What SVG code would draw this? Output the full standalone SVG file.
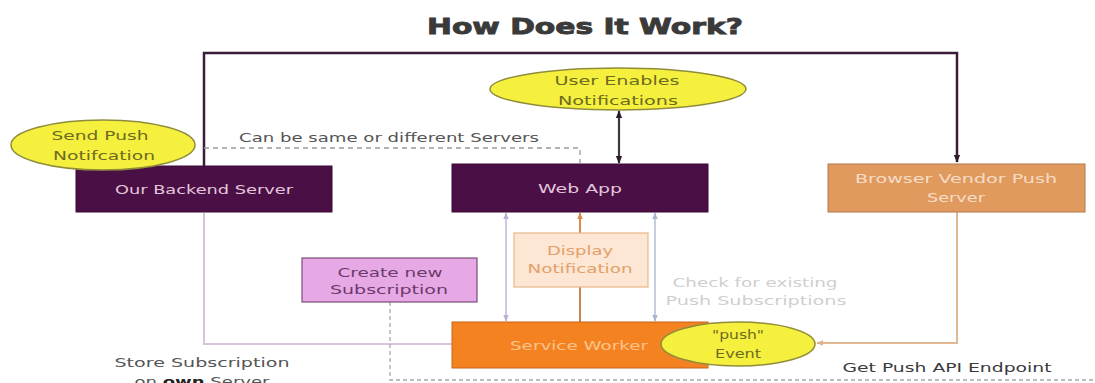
<svg xmlns="http://www.w3.org/2000/svg" width="1095" height="383" viewBox="0 0 1095 383">
<defs>
<style>
.t{font-family:"DejaVu Sans","Liberation Sans",sans-serif;text-anchor:middle;font-size:13px}
.dk{fill:#4a1045;stroke:#3a0a36;stroke-width:1}
.dkt{fill:#e4c6dc}
.yel{fill:#f5f03e;stroke:#8f8d3a;stroke-width:1.5}
.yelt{fill:#6e6a1e}
.ln{fill:none}
</style>
<marker id="aDk" viewBox="0 0 10 10" refX="9" refY="5" markerWidth="8" markerHeight="8" markerUnits="userSpaceOnUse" orient="auto-start-reverse"><path d="M0 1L10 5L0 9z" fill="#2e1a2c"/></marker>
<marker id="aLv" viewBox="0 0 10 10" refX="9" refY="5" markerWidth="7" markerHeight="7" markerUnits="userSpaceOnUse" orient="auto-start-reverse"><path d="M0 1L10 5L0 9z" fill="#c0aed2"/></marker>
<marker id="aBl" viewBox="0 0 10 10" refX="9" refY="5" markerWidth="7" markerHeight="7" markerUnits="userSpaceOnUse" orient="auto-start-reverse"><path d="M0 1L10 5L0 9z" fill="#aab4d0"/></marker>
<marker id="aOr" viewBox="0 0 10 10" refX="9" refY="5" markerWidth="7" markerHeight="7" markerUnits="userSpaceOnUse" orient="auto-start-reverse"><path d="M0 1L10 5L0 9z" fill="#d98a4c"/></marker>
<marker id="aTn" viewBox="0 0 10 10" refX="9" refY="5" markerWidth="7" markerHeight="7" markerUnits="userSpaceOnUse" orient="auto-start-reverse"><path d="M0 1L10 5L0 9z" fill="#dfb08a"/></marker>
</defs>
<rect width="1095" height="383" fill="#ffffff"/>

<text x="585" y="34" font-family="DejaVu Sans, Liberation Sans, sans-serif" font-weight="bold" font-size="22" fill="#3a3a3a" stroke="#3a3a3a" stroke-width="0.9" text-anchor="middle" textLength="316" lengthAdjust="spacingAndGlyphs">How Does It Work?</text>

<g id="connectors">
<path class="ln" d="M204 166V53H957V162" stroke="#3d1c3a" stroke-width="2.5" marker-end="url(#aDk)"/>
<path class="ln" d="M204 148H580V163" stroke="#9a9a9a" stroke-width="1.3" stroke-dasharray="5 4"/>
<path class="ln" d="M619 111V163" stroke="#3a3a3a" stroke-width="2.2" marker-start="url(#aDk)" marker-end="url(#aDk)"/>
<path class="ln" d="M204 213V344H452" stroke="#dcc0e2" stroke-width="2"/>
<path class="ln" d="M506 213V321" stroke="#c8b8d8" stroke-width="1.6" marker-start="url(#aLv)" marker-end="url(#aLv)"/>
<path class="ln" d="M580 233V213" stroke="#d98a4c" stroke-width="2" marker-end="url(#aOr)"/>
<path class="ln" d="M580 287V322" stroke="#c98650" stroke-width="2"/>
<path class="ln" d="M655 213V321" stroke="#b8c0d8" stroke-width="1.6" marker-start="url(#aBl)" marker-end="url(#aBl)"/>
<path class="ln" d="M957 212V343H817" stroke="#e2b894" stroke-width="2" marker-end="url(#aTn)"/>
<path class="ln" d="M390 302V380H1095" stroke="#a8a8a8" stroke-width="1.3" stroke-dasharray="4 3"/>
</g>

<text class="t" x="389" y="142" fill="#555555" font-size="14" textLength="300" lengthAdjust="spacingAndGlyphs">Can be same or different Servers</text>

<g id="backend">
<rect class="dk" x="76" y="166" width="256" height="46"/>
<text class="t dkt" x="204" y="194" textLength="178" lengthAdjust="spacingAndGlyphs">Our Backend Server</text>
</g>

<g id="send-push">
<ellipse class="yel" cx="103" cy="145" rx="92" ry="25"/>
<text class="t yelt" x="100" y="140" textLength="97" lengthAdjust="spacingAndGlyphs">Send Push</text>
<text class="t yelt" x="104" y="160" textLength="102" lengthAdjust="spacingAndGlyphs">Notifcation</text>
</g>

<g id="user-enables">
<ellipse class="yel" cx="618" cy="89" rx="128" ry="21"/>
<text class="t yelt" x="617" y="85" textLength="125" lengthAdjust="spacingAndGlyphs">User Enables</text>
<text class="t yelt" x="618" y="105" textLength="120" lengthAdjust="spacingAndGlyphs">Notifications</text>
</g>

<g id="web-app">
<rect class="dk" x="452" y="164" width="256" height="48"/>
<text class="t dkt" x="580" y="193" textLength="84" lengthAdjust="spacingAndGlyphs">Web App</text>
</g>

<g id="browser-vendor">
<rect x="828" y="164" width="257" height="48" fill="#e09a5e" stroke="#b07848" stroke-width="1"/>
<text class="t" x="956" y="183" fill="#f7dcc6" textLength="202" lengthAdjust="spacingAndGlyphs">Browser Vendor Push</text>
<text class="t" x="956" y="202" fill="#f7dcc6" textLength="58" lengthAdjust="spacingAndGlyphs">Server</text>
</g>

<g id="display-notification">
<rect x="514" y="233" width="134" height="54" fill="#fde6d3" stroke="#e8b68c" stroke-width="1.2"/>
<text class="t" x="580" y="255" fill="#e2a16a" textLength="66" lengthAdjust="spacingAndGlyphs">Display</text>
<text class="t" x="580" y="273" fill="#e2a16a" textLength="105" lengthAdjust="spacingAndGlyphs">Notification</text>
</g>

<g id="create-subscription">
<rect x="302" y="258" width="175" height="44" fill="#e7a9e6" stroke="#7a4c78" stroke-width="1.2"/>
<text class="t" x="390" y="277" fill="#6c3a6a" textLength="105" lengthAdjust="spacingAndGlyphs">Create new</text>
<text class="t" x="389" y="294" fill="#6c3a6a" textLength="118" lengthAdjust="spacingAndGlyphs">Subscription</text>
</g>

<text class="t" x="755" y="287" fill="#cfcfcf" textLength="165" lengthAdjust="spacingAndGlyphs">Check for existing</text>
<text class="t" x="756" y="305" fill="#cfcfcf" textLength="181" lengthAdjust="spacingAndGlyphs">Push Subscriptions</text>

<g id="service-worker">
<rect x="452" y="322" width="256" height="46" fill="#f58220" stroke="#c8641a" stroke-width="1"/>
<text class="t" x="579" y="350" fill="#fbc48c" textLength="138" lengthAdjust="spacingAndGlyphs">Service Worker</text>
</g>

<g id="push-event">
<ellipse class="yel" cx="738" cy="344" rx="77" ry="22"/>
<text class="t yelt" x="738" y="339" textLength="52" lengthAdjust="spacingAndGlyphs">"push"</text>
<text class="t yelt" x="738" y="358" textLength="46" lengthAdjust="spacingAndGlyphs">Event</text>
</g>

<text class="t" x="947" y="372" fill="#3a3a3a" font-size="14" textLength="209" lengthAdjust="spacingAndGlyphs">Get Push API Endpoint</text>

<text class="t" x="202" y="367" fill="#555555" font-size="14" textLength="175" lengthAdjust="spacingAndGlyphs">Store Subscription</text>
<text class="t" x="202" y="386" fill="#555555" font-size="14" textLength="135" lengthAdjust="spacingAndGlyphs">on <tspan font-weight="bold" fill="#222">own</tspan> Server</text>
</svg>
